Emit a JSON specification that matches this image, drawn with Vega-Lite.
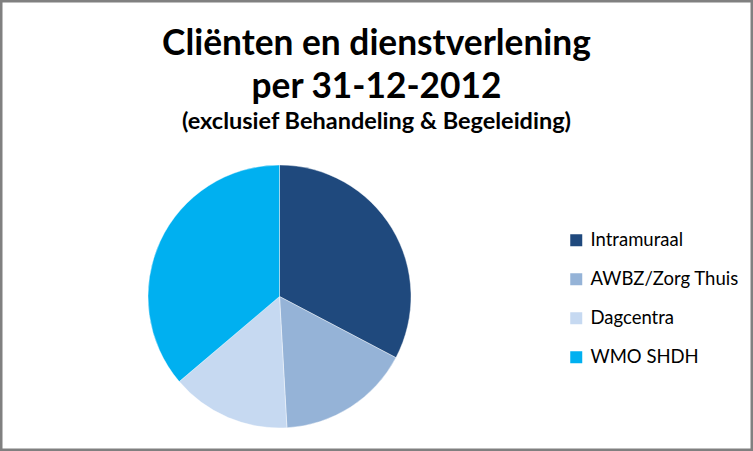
{
  "$schema": "https://vega.github.io/schema/vega-lite/v6.json",
  "width": 753,
  "height": 451,
  "autosize": {"type": "fit", "contains": "padding"},
  "padding": 0,
  "background": "white",
  "config": {"view": {"stroke": null}},
  "title": {
    "text": ["Cliënten en dienstverlening", "per 31-12-2012"],
    "subtitle": "(exclusief Behandeling & Begeleiding)",
    "anchor": "middle",
    "frame": "group",
    "orient": "top",
    "offset": -133,
    "font": "Lato",
    "fontSize": 35.3,
    "fontWeight": "bold",
    "lineHeight": 43,
    "color": "black",
    "subtitleFont": "Lato",
    "subtitleFontSize": 23.5,
    "subtitleFontWeight": "bold",
    "subtitleColor": "black",
    "subtitlePadding": 4
  },
  "layer": [
    {
      "data": {"values": [{"kader": "rand"}]},
      "mark": {"type": "rect", "fill": null, "stroke": "#808080", "strokeWidth": 5, "clip": true},
      "encoding": {
        "x": {"value": 0},
        "x2": {"value": "width"},
        "y": {"value": 0},
        "y2": {"value": "height"}
      }
    },
    {
      "data": {
        "values": [
          {"categorie": "Intramuraal", "aandeel": 32.7, "volgorde": 1},
          {"categorie": "AWBZ/Zorg Thuis", "aandeel": 16.4, "volgorde": 2},
          {"categorie": "Dagcentra", "aandeel": 14.7, "volgorde": 3},
          {"categorie": "WMO SHDH", "aandeel": 36.2, "volgorde": 4}
        ]
      },
      "mark": {"type": "arc", "outerRadius": 131.5, "x": 279.5, "y": 296.5, "stroke": "white", "strokeWidth": 0.4},
      "encoding": {
        "theta": {"field": "aandeel", "type": "quantitative", "stack": true},
        "order": {"field": "volgorde", "type": "quantitative"},
        "color": {
          "field": "categorie",
          "type": "nominal",
          "scale": {
            "domain": ["Intramuraal", "AWBZ/Zorg Thuis", "Dagcentra", "WMO SHDH"],
            "range": ["#1F497D", "#95B3D7", "#C6D9F1", "#00B0F0"]
          },
          "legend": {
            "title": null,
            "orient": "none",
            "legendX": 567,
            "legendY": 231,
            "symbolType": "square",
            "symbolSize": 144,
            "symbolStrokeWidth": 0,
            "labelFont": "Lato",
            "labelFontSize": 18.5,
            "labelColor": "black",
            "labelOffset": 5,
            "labelLimit": 300,
            "rowPadding": 20
          }
        }
      }
    }
  ]
}
